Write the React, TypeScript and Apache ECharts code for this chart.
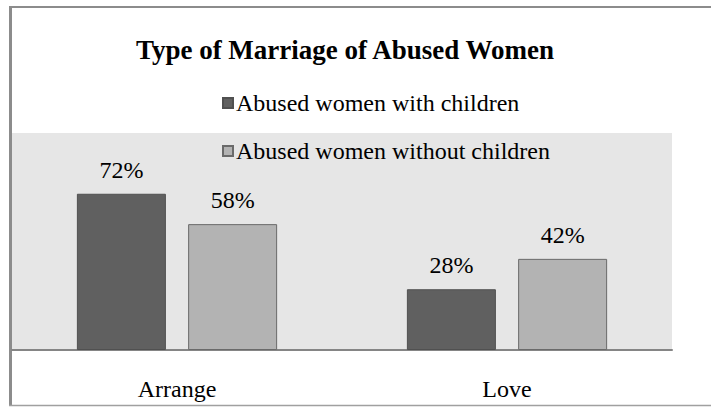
import React, { useEffect, useRef } from "react";
import * as echarts from "echarts";

const categories = ["Arrange", "Love"];
const seriesNames = ["Abused women with children", "Abused women without children"];
const withChildren = [72, 28];
const withoutChildren = [58, 42];
const titleText = "Type of Marriage of Abused Women";

export default function App() {
  const ref = useRef<HTMLDivElement>(null);
  useEffect(() => {
    if (!ref.current) return;
    const chart = echarts.init(ref.current, null, { renderer: "svg" });
    const font = "Liberation Serif";
    const labelStyle = { show: true, position: "top", distance: 12, formatter: "{c}%", fontFamily: font, fontSize: 24, color: "#000" };
    chart.setOption({
      animation: false,
      backgroundColor: "#ffffff",
      textStyle: { fontFamily: font },
      title: {
        text: titleText,
        left: 340,
        textAlign: "center",
        top: 31,
        textStyle: { fontFamily: font, fontWeight: "bold", fontSize: 27, color: "#000" },
      },
      legend: {
        orient: "vertical",
        left: 217,
        top: 85,
        itemWidth: 10,
        itemHeight: 10,
        itemGap: 22,
        icon: "rect",
        textStyle: { fontFamily: font, fontSize: 24, color: "#000", lineHeight: 26, padding: [0, 0, 0, -2] },
        data: seriesNames,
      },
      grid: { left: 12, right: 39, top: 133, bottom: 57, backgroundColor: "#e6e6e6", show: true, borderWidth: 0 },
      xAxis: {
        type: "category",
        data: categories,
        axisLine: { show: true, lineStyle: { color: "#858585", width: 2 } },
        axisTick: { show: false },
        axisLabel: { fontFamily: font, fontSize: 24, color: "#000", margin: 27 },
      },
      yAxis: {
        type: "value",
        min: 0,
        max: 100,
        show: false,
        splitLine: { show: false },
      },
      series: [
        {
          name: seriesNames[0],
          type: "bar",
          data: withChildren,
          barWidth: 89,
          barGap: "25%",
          itemStyle: { color: "#606060", borderColor: "#505050", borderWidth: 1 },
          label: labelStyle,
        },
        {
          name: seriesNames[1],
          type: "bar",
          data: withoutChildren,
          barWidth: 89,
          itemStyle: { color: "#b3b3b3", borderColor: "#6a6a6a", borderWidth: 1 },
          label: labelStyle,
        },
      ],
      graphic: [
        { type: "line", shape: { x1: 9, y1: 7, x2: 711, y2: 7 }, style: { stroke: "#8c8c8c", lineWidth: 2 } },
        { type: "line", shape: { x1: 10.5, y1: 6, x2: 10.5, y2: 406 }, style: { stroke: "#8c8c8c", lineWidth: 3 } },
        { type: "line", shape: { x1: 9, y1: 405.5, x2: 711, y2: 405.5 }, style: { stroke: "#a0a0a0", lineWidth: 1.5 } },
      ],
    });
    return () => chart.dispose();
  }, []);
  return <div ref={ref} style={{ width: 711, height: 407, position: "absolute", left: 0, top: 0 }} />;
}
